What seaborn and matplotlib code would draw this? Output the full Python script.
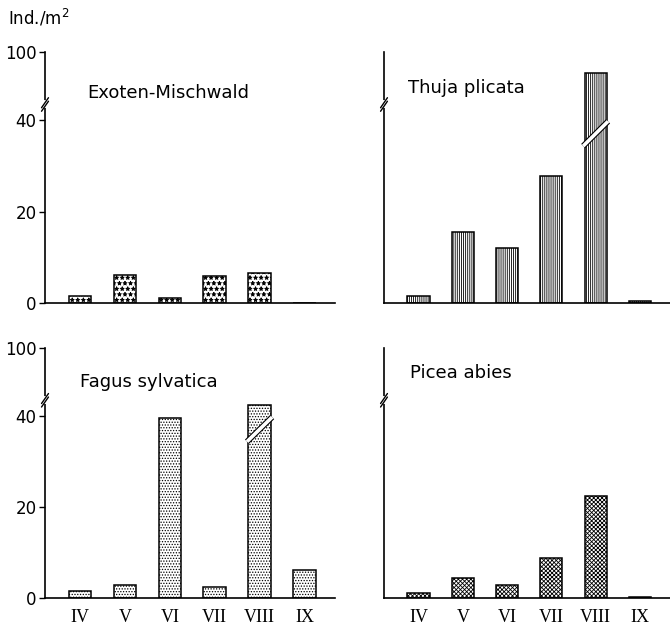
import numpy as np
import pandas as pd
import matplotlib
matplotlib.use("Agg")
import matplotlib.pyplot as plt
import seaborn as sns

months = ["IV", "V", "VI", "VII", "VIII", "IX"]
exoten = [1.6, 6.1, 1.2, 6.0, 6.5, 0.0]
thuja = [1.6, 15.5, 12.0, 27.8, 82.0, 0.5]
fagus = [1.6, 2.9, 39.6, 2.5, 50.0, 6.1]
picea = [1.1, 4.4, 2.8, 8.8, 22.4, 0.3]
titles = ["Exoten-Mischwald", "Thuja plicata", "Fagus sylvatica", "Picea abies"]
hatches = ["***", "||||||||", "......", "xxxxxxxx"]
yticks = [0, 20, 40, 100]
ylabel = "Ind./m$^2$"

BREAK = 40.0
K = 0.25
YMAX = 100.0
MARK = 54.0


def fwd(y):
    y = np.asarray(y, float)
    return np.where(y <= BREAK, y, BREAK + (y - BREAK) * K)


def inv(t):
    t = np.asarray(t, float)
    return np.where(t <= BREAK, t, BREAK + (t - BREAK) / K)


sns.set_style("white")
plt.rcParams["font.family"] = ["DejaVu Sans"]
plt.rcParams["hatch.linewidth"] = 0.6
plt.rcParams["text.color"] = "black"
plt.rcParams["xtick.color"] = "black"
plt.rcParams["ytick.color"] = "black"
plt.rcParams["axes.labelcolor"] = "black"

fig = plt.figure(figsize=(6.7, 6.36), dpi=100)
L1, W1 = 45 / 670, 290 / 670
L2, W2 = 384 / 670, 286 / 670
B1, H1 = 1 - 303 / 636, 251 / 636
B2, H2 = 1 - 598 / 636, 250 / 636
rects = [(L1, B1, W1, H1), (L2, B1, W2, H1), (L1, B2, W1, H2), (L2, B2, W2, H2)]
series = [exoten, thuja, fagus, picea]
title_pos = [(0.145, 0.837), (0.084, 0.857), (0.12, 0.864), (0.09, 0.90)]

for i, (r, vals) in enumerate(zip(rects, series)):
    ax = fig.add_axes(r)
    df = pd.DataFrame({"month": months, "value": vals})
    sns.barplot(data=df, x="month", y="value", ax=ax, color="white",
                edgecolor="black", linewidth=1.1, width=0.5, saturation=1)
    for p in ax.patches:
        p.set_hatch(hatches[i])
        p.set_facecolor("white")
        p.set_edgecolor("black")
    ax.set_yscale("function", functions=(fwd, inv))
    ax.set_ylim(0, YMAX)
    ax.set_xlim(-0.78, 5.68)
    for s in ["top", "right"]:
        ax.spines[s].set_visible(False)
    for s in ["left", "bottom"]:
        ax.spines[s].set_linewidth(1.2)
        ax.spines[s].set_color("black")
    ax.set_xlabel("")
    ax.set_ylabel("")
    ax.set_yticks(yticks)
    ax.yaxis.set_minor_locator(matplotlib.ticker.NullLocator())
    left = i % 2 == 0
    bottom = i >= 2
    if left:
        ax.set_yticklabels([str(t) for t in yticks], fontsize=12)
        ax.tick_params(axis="y", length=4, width=1, direction="out", left=True, pad=2)
    else:
        ax.set_yticklabels([])
        ax.tick_params(axis="y", length=0)
    if bottom:
        ax.set_xticks(range(len(months)))
        ax.set_xticklabels(months, fontsize=13, family=["Liberation Serif", "DejaVu Serif"])
        ax.tick_params(axis="x", length=0, pad=8)
    else:
        ax.set_xticklabels([])
        ax.tick_params(axis="x", length=0)

    # bar break bands for values above the axis break
    for j, v in enumerate(vals):
        if v > BREAK:
            xs = [j - 0.28, j + 0.28]
            ys = [34.4, 39.8]
            ax.plot(xs, ys, color="black", lw=4.2, solid_capstyle="butt", zorder=5)
            ax.plot(xs, ys, color="white", lw=2.6, solid_capstyle="butt", zorder=6)

    # axis break marks
    yf = float(fwd(MARK) / fwd(YMAX))
    ax.plot([0, 0], [yf - 0.008, yf + 0.008], transform=ax.transAxes,
            color="white", lw=3, clip_on=False, zorder=7)
    for off in (-0.007, 0.007):
        ax.plot([-0.012, 0.012], [yf + off - 0.02, yf + off + 0.02],
                transform=ax.transAxes, color="black", lw=1, clip_on=False, zorder=8)

    tx, ty = title_pos[i]
    ax.text(tx, ty, titles[i], transform=ax.transAxes, fontsize=13,
            ha="left", va="center")

fig.text(0.012, 0.972, ylabel, fontsize=12, ha="left", va="center")
fig.savefig("out.png", dpi=100)
